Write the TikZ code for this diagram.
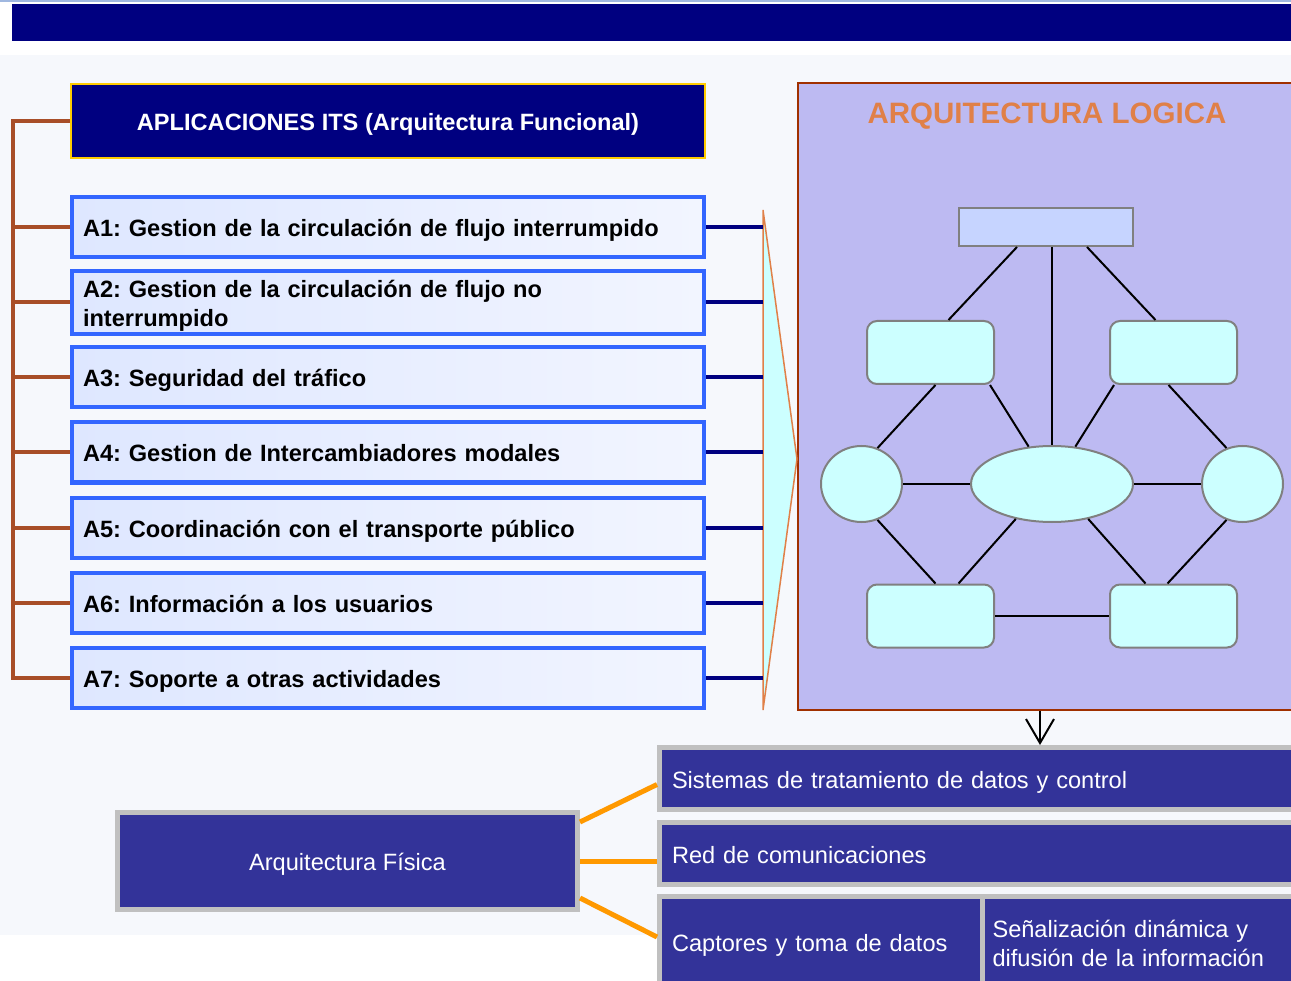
\documentclass[tikz,border=0pt]{standalone}
\usepackage{fontspec}
\setmainfont{Liberation Sans}
\usetikzlibrary{shapes.geometric, arrows.meta, positioning}
\frenchspacing

\definecolor{navy}{RGB}{0,0,128}
\definecolor{topline}{RGB}{160,184,224}
\definecolor{pagetint}{RGB}{246,248,252}
\definecolor{hdryellow}{RGB}{255,204,0}
\definecolor{appblue}{RGB}{51,102,255}
\definecolor{appleft}{RGB}{222,231,255}
\definecolor{appright}{RGB}{242,245,255}
\definecolor{bracketbrown}{RGB}{168,78,40}
\definecolor{lavender}{RGB}{189,186,242}
\definecolor{logicared}{RGB}{160,48,0}
\definecolor{logicaorange}{RGB}{224,128,72}
\definecolor{paleaqua}{RGB}{204,255,255}
\definecolor{paleblue}{RGB}{198,212,255}
\definecolor{nodegray}{RGB}{128,128,128}
\definecolor{physblue}{RGB}{51,51,153}
\definecolor{physgray}{RGB}{192,192,192}
\definecolor{linkorange}{RGB}{255,153,0}

\newcommand{\appfont}{\fontsize{23.6}{29}\selectfont\bfseries}
\newcommand{\physfont}{\fontsize{23.6}{29}\selectfont}

\tikzstyle{hdrbox} = [rectangle, fill=navy, draw=hdryellow, line width=2pt, minimum width=634pt, minimum height=74pt, text=white, font=\appfont]
\tikzstyle{appbox} = [rectangle, draw=appblue, line width=4pt, left color=appleft, right color=appright, minimum width=632pt, minimum height=60pt, text width=610pt, inner xsep=11pt, align=left, font=\appfont]
\tikzstyle{oneline} = [text height=23pt, text depth=4pt]
\tikzstyle{bracket} = [bracketbrown, line width=4pt]
\tikzstyle{navylink} = [navy, line width=4pt]
\tikzstyle{orangelink} = [linkorange, line width=5pt]
\tikzset{
	logicabox/.style={rectangle, fill=lavender, draw=logicared, line width=2pt, minimum width=512pt, minimum height=626pt},
	graphbox/.style={rectangle, fill=paleblue, draw=nodegray, line width=2pt, inner sep=0pt},
	graphround/.style={rectangle, rounded corners=10pt, fill=paleaqua, draw=nodegray, line width=2pt, inner sep=0pt, minimum width=127pt, minimum height=63pt},
	graphoval/.style={ellipse, fill=paleaqua, draw=nodegray, line width=2pt, inner sep=0pt, minimum height=76pt},
	link/.style={black, line width=2pt},
	physbox/.style={rectangle, fill=physblue, draw=physgray, line width=5pt, text=white, font=\physfont},
	downarrow/.style={black, line width=2pt, -{Straight Barb[length=24pt, width=28pt]}}
}

\begin{document}
\begin{tikzpicture}[x=1pt, y=-1pt, node distance=75pt]
	\useasboundingbox (0,0) rectangle (1291,981);
	\clip (0,0) rectangle (1291,981);
	
	% Background
	\fill[white] (0,0) rectangle (1291,981);
	\fill[pagetint] (0,55) rectangle (1291,935);
	\fill[topline] (0,0) rectangle (1291,2);
	\fill[navy] (12,4) rectangle (1291,41);
	
	% Nodes (applications)
	\node (hdr) [hdrbox, oneline] at (388,121) {APLICACIONES ITS (Arquitectura Funcional)};
	\node (a1) [appbox, oneline] at (388,227.5) {A1: Gestion de la circulación de flujo interrumpido};
	\node (a2) [appbox, below of=a1] {\rule{0pt}{23pt}A2: Gestion de la circulación de flujo no\\interrumpido};
	\node (a3) [appbox, oneline, below of=a2] {A3: Seguridad del tráfico};
	\node (a4) [appbox, oneline, below of=a3] {A4: Gestion de Intercambiadores modales};
	\node (a5) [appbox, oneline, below of=a4] {A5: Coordinación con el transporte público};
	\node (a6) [appbox, oneline, below of=a5] {A6: Información a los usuarios};
	\node (a7) [appbox, oneline, below of=a6] {A7: Soporte a otras actividades};
	
	% Bracket
	\coordinate (bx) at (13,0);
	\draw[bracket] (hdr.west) -- (hdr.west -| bx) -- (a7.west -| bx) -- (a7.west);
	\foreach \n in {a1,a2,a3,a4,a5,a6}
		\draw[bracket] (\n.west) -- (\n.west -| bx);
	
	% Funnel
	\coordinate (tritop) at (763,210);
	\coordinate (tritip) at (797,459);
	\coordinate (tribot) at (763,710);
	\node (logica) [logicabox] at (1054,396.5) {};
	\draw[draw=logicaorange, fill=paleaqua, line width=1.5pt] (tritop) -- (tritip) -- (tribot) -- cycle;
	\foreach \n in {a1,a2,a3,a4,a5,a6,a7}
		\draw[navylink] (\n.east) -- (\n.east -| tritop);
	
	% Logical architecture
	\node (logtitle) [text=logicaorange, font=\fontsize{29.5}{34}\selectfont\bfseries] at (1047,116) {ARQUITECTURA LOGICA};
	\node (top) [graphbox, minimum width=174pt, minimum height=38pt] at (1046,227) {};
	\node (lrect) [graphround] at (930.5,352.5) {};
	\node (rrect) [graphround] at (1173.5,352.5) {};
	\node (lcirc) [graphoval, minimum width=81pt] at (861.5,484) {};
	\node (cen) [graphoval, minimum width=162pt] at (1052,484) {};
	\node (rcirc) [graphoval, minimum width=81pt] at (1242.5,484) {};
	\node (bl) [graphround] at (930.5,616) {};
	\node (br) [graphround] at (1173.5,616) {};
	
	\draw[link] ([xshift=-29pt]top.south) -- ([xshift=18pt]lrect.north);
	\draw[link] ([xshift=6pt]top.south) -- (cen.north);
	\draw[link] ([xshift=41pt]top.south) -- ([xshift=-18pt]rrect.north);
	\draw[link] ([xshift=5pt]lrect.south) -- (lcirc.66);
	\draw[link] ([xshift=-5pt]lrect.south east) -- (cen.122);
	\draw[link] ([xshift=5pt]rrect.south west) -- (cen.58);
	\draw[link] ([xshift=-5pt]rrect.south) -- (rcirc.114);
	\draw[link] (lcirc.east) -- (cen.west);
	\draw[link] (cen.east) -- (rcirc.west);
	\draw[link] (lcirc.294) -- ([xshift=5pt]bl.north);
	\draw[link] (cen.224) -- ([xshift=28pt]bl.north);
	\draw[link] (cen.316) -- ([xshift=-28pt]br.north);
	\draw[link] (rcirc.246) -- ([xshift=-6pt]br.north);
	\draw[link] (bl.east) -- (br.west);
	
	% Physical architecture
	\node (fis) [physbox, oneline, minimum width=460pt, minimum height=97pt] at (347.5,861) {Arquitectura Física};
	\node (sis) [physbox, oneline, anchor=west, text width=630pt, inner xsep=12.5pt, minimum height=62pt, align=left] at (657,778.5) {Sistemas de tratamiento de datos y control};
	\node (red) [physbox, oneline, anchor=west, text width=630pt, inner xsep=12.5pt, minimum height=62pt, align=left] at (657,853.5) {Red de comunicaciones};
	\node (cap) [physbox, oneline, anchor=west, text width=298pt, inner xsep=12.5pt, minimum height=92pt, align=left] at (657,942) {Captores y toma de datos};
	\node (sen) [physbox, anchor=west, text width=320pt, inner xsep=10pt, minimum height=92pt, align=left] at (980,942) {\rule{0pt}{21pt}Señalización dinámica y\\difusión de la información};
	
	% Arrows
	\draw[downarrow] ([xshift=-14pt]logica.south) -- ([xshift=-14pt]logica.south |- sis.north);
	\draw[orangelink] ([yshift=39pt]fis.east) -- ([yshift=-6pt]sis.west);
	\draw[orangelink] (fis.east) -- (fis.east -| red.west);
	\draw[orangelink] ([yshift=-37pt]fis.east) -- ([yshift=5pt]cap.west);
	
\end{tikzpicture}
\end{document}
